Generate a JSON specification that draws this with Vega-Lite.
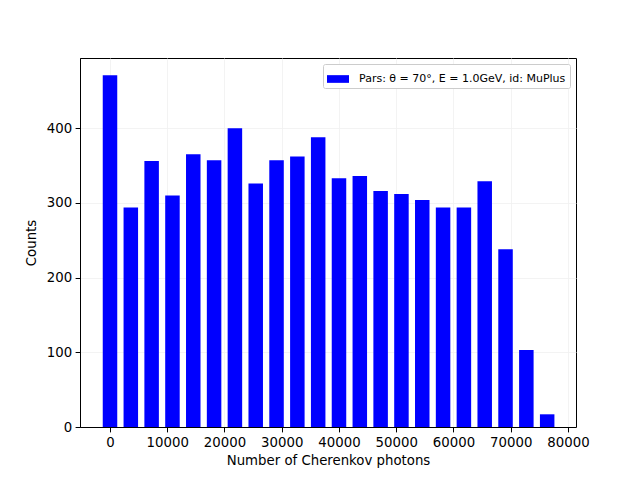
{
  "$schema": "https://vega.github.io/schema/vega-lite/v6.json",
  "width": 496,
  "height": 369,
  "autosize": {"type": "none"},
  "padding": {"left": 80, "top": 58, "right": 64, "bottom": 53},
  "background": "white",
  "config": {
    "font": "DejaVu Sans",
    "view": {"stroke": "black", "strokeWidth": 1},
    "axis": {
      "domainColor": "black",
      "tickColor": "black",
      "tickSize": 4.9,
      "labelFontSize": 13.3,
      "labelColor": "black",
      "titleFontSize": 13.3,
      "titleFontWeight": "normal",
      "titleColor": "black",
      "gridColor": "#f0f0f0",
      "gridWidth": 0.8,
      "labelPadding": 3.5
    }
  },
  "data": {
    "values": [
      {"photons": 0, "counts": 471, "series": "Pars: θ = 70°, E = 1.0GeV, id: MuPlus"},
      {"photons": 3636, "counts": 294, "series": "Pars: θ = 70°, E = 1.0GeV, id: MuPlus"},
      {"photons": 7273, "counts": 356, "series": "Pars: θ = 70°, E = 1.0GeV, id: MuPlus"},
      {"photons": 10909, "counts": 310, "series": "Pars: θ = 70°, E = 1.0GeV, id: MuPlus"},
      {"photons": 14545, "counts": 365, "series": "Pars: θ = 70°, E = 1.0GeV, id: MuPlus"},
      {"photons": 18182, "counts": 357, "series": "Pars: θ = 70°, E = 1.0GeV, id: MuPlus"},
      {"photons": 21818, "counts": 400, "series": "Pars: θ = 70°, E = 1.0GeV, id: MuPlus"},
      {"photons": 25455, "counts": 326, "series": "Pars: θ = 70°, E = 1.0GeV, id: MuPlus"},
      {"photons": 29091, "counts": 357, "series": "Pars: θ = 70°, E = 1.0GeV, id: MuPlus"},
      {"photons": 32727, "counts": 362, "series": "Pars: θ = 70°, E = 1.0GeV, id: MuPlus"},
      {"photons": 36364, "counts": 388, "series": "Pars: θ = 70°, E = 1.0GeV, id: MuPlus"},
      {"photons": 40000, "counts": 333, "series": "Pars: θ = 70°, E = 1.0GeV, id: MuPlus"},
      {"photons": 43636, "counts": 336, "series": "Pars: θ = 70°, E = 1.0GeV, id: MuPlus"},
      {"photons": 47273, "counts": 316, "series": "Pars: θ = 70°, E = 1.0GeV, id: MuPlus"},
      {"photons": 50909, "counts": 312, "series": "Pars: θ = 70°, E = 1.0GeV, id: MuPlus"},
      {"photons": 54545, "counts": 304, "series": "Pars: θ = 70°, E = 1.0GeV, id: MuPlus"},
      {"photons": 58182, "counts": 294, "series": "Pars: θ = 70°, E = 1.0GeV, id: MuPlus"},
      {"photons": 61818, "counts": 294, "series": "Pars: θ = 70°, E = 1.0GeV, id: MuPlus"},
      {"photons": 65455, "counts": 329, "series": "Pars: θ = 70°, E = 1.0GeV, id: MuPlus"},
      {"photons": 69091, "counts": 238, "series": "Pars: θ = 70°, E = 1.0GeV, id: MuPlus"},
      {"photons": 72727, "counts": 103, "series": "Pars: θ = 70°, E = 1.0GeV, id: MuPlus"},
      {"photons": 76364, "counts": 17, "series": "Pars: θ = 70°, E = 1.0GeV, id: MuPlus"}
    ]
  },
  "mark": {"type": "bar", "size": 14.5},
  "encoding": {
    "x": {
      "field": "photons",
      "type": "quantitative",
      "scale": {"domain": [-5240, 81400], "nice": false, "zero": false, "padding": 0},
      "axis": {"title": "Number of Cherenkov photons", "values": [0, 10000, 20000, 30000, 40000, 50000, 60000, 70000, 80000], "format": "d", "titlePadding": 5}
    },
    "y": {
      "field": "counts",
      "type": "quantitative",
      "scale": {"domain": [0, 494], "nice": false, "padding": 0},
      "axis": {"title": "Counts", "values": [0, 100, 200, 300, 400], "titlePadding": 8}
    },
    "color": {
      "field": "series",
      "type": "nominal",
      "scale": {"range": ["#0000ff"]},
      "legend": {
        "title": null,
        "orient": "top-right",
        "offset": 6,
        "labelFontSize": 11,
        "labelColor": "black",
        "labelLimit": 400,
        "symbolType": "M-1,-0.35L1,-0.35L1,0.35L-1,0.35Z",
        "symbolSize": 484,
        "symbolStrokeWidth": 0,
        "fillColor": "white",
        "strokeColor": "#cccccc",
        "cornerRadius": 2,
        "padding": 4,
        "labelOffset": 10
      }
    }
  }
}
